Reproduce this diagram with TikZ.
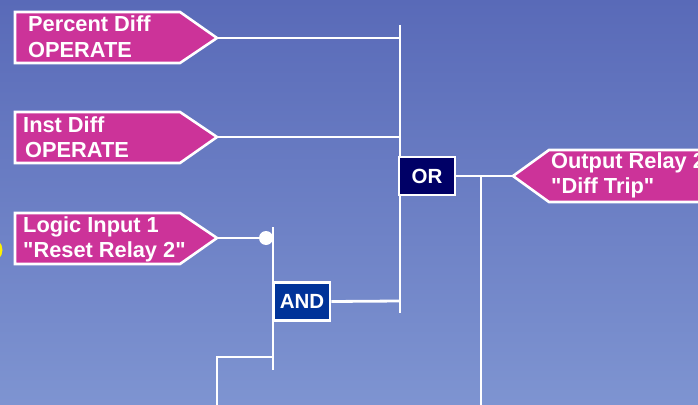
\documentclass[tikz,border=0pt]{standalone}
\usepackage{fontspec}
\setmainfont{Liberation Sans}[Ligatures=TeXOff]
\definecolor{bgtop}{RGB}{89,106,184}
\definecolor{bgbot}{RGB}{126,148,209}
\definecolor{pink}{RGB}{204,51,153}
\definecolor{ornavy}{RGB}{0,0,102}
\definecolor{andblue}{RGB}{0,51,153}
\tikzset{
  pennant/.style={fill=pink, draw=white, line width=2.6pt, line join=miter},
  wire/.style={draw=white, line width=2.8pt},
  lbl/.style={anchor=base west, inner sep=0pt, text=white, font=\fontsize{21.8}{24}\selectfont\bfseries},
  gate/.style={draw=white, line width=2.8pt, minimum width=56pt, minimum height=38pt, inner sep=0pt, text=white, font=\fontsize{20.5}{24}\selectfont\bfseries}
}
\begin{document}
\begin{tikzpicture}[x=1pt,y=-1pt]
\useasboundingbox (0,0) rectangle (698,404);
\clip (0,0) rectangle (698,404);
\shade[top color=bgtop, bottom color=bgbot] (0,0) rectangle (698,404);
% yellow sliver at the left edge
\fill[yellow] (-10,250) circle (12.5);
% pennants
\path[pennant] (15,12) -- (180,12) -- (217,38) -- (180,63) -- (15,63) -- cycle;
\coordinate (pdtip) at (217,38);
\path[pennant] (15,112) -- (180,112) -- (217,137) -- (180,163) -- (15,163) -- cycle;
\coordinate (idtip) at (217,137);
\path[pennant] (15,213) -- (180,213) -- (217,238) -- (180,264) -- (15,264) -- cycle;
\coordinate (litip) at (217,238);
\path[pennant] (513,176) -- (549,150) -- (720,150) -- (720,202) -- (549,202) -- cycle;
\coordinate (ortip) at (513,176);
% labels
\node[lbl] (pd1) at (28,32) {Percent Diff};
\node[lbl] (pd2) at (28,57) {OPERATE};
\node[lbl] (id1) at (23,132) {Inst Diff};
\node[lbl] (id2) at (25,157) {OPERATE};
\node[lbl] (li1) at (23,232) {Logic Input 1};
\node[lbl] (li2) at (23,257) {"Reset Relay 2"};
\node[lbl] (or1) at (551,168) {Output Relay 2};
\node[lbl] (or2) at (551,193) {"Diff Trip"};
% bus coordinates
\coordinate (ortop) at (400,25);
\coordinate (orbot) at (400,313);
\coordinate (pdend) at (400,38);
\coordinate (idend) at (400,137);
\coordinate (andtop) at (273,227);
\coordinate (andbot) at (273,370);
\coordinate (dot) at (266,238);
\coordinate (bj) at (273,357);
\coordinate (bc) at (217,357);
\coordinate (bd) at (217,410);
\coordinate (oj) at (481,176);
\coordinate (od) at (481,410);
\coordinate (andend) at (400,301);
% wires
\draw[wire] (pdtip) -- (pdend);
\draw[wire] (idtip) -- (idend);
\draw[wire] (ortop) -- (orbot);
\draw[wire] (litip) -- (dot);
\draw[wire] (andtop) -- (andbot);
\draw[wire] (bj) -- (bc) -- (bd);
\draw[wire] (oj) -- (od);
\fill[white] (dot) circle (7);
% gates
\node[gate, fill=ornavy] (orgate) at (427,176) {OR};
\node[gate, fill=andblue] (andgate) at (302,301.5) {AND};
\draw[wire] (orgate.east) -- (ortip);
\draw[wire] (andgate.east) -- (andend);
\end{tikzpicture}
\end{document}
